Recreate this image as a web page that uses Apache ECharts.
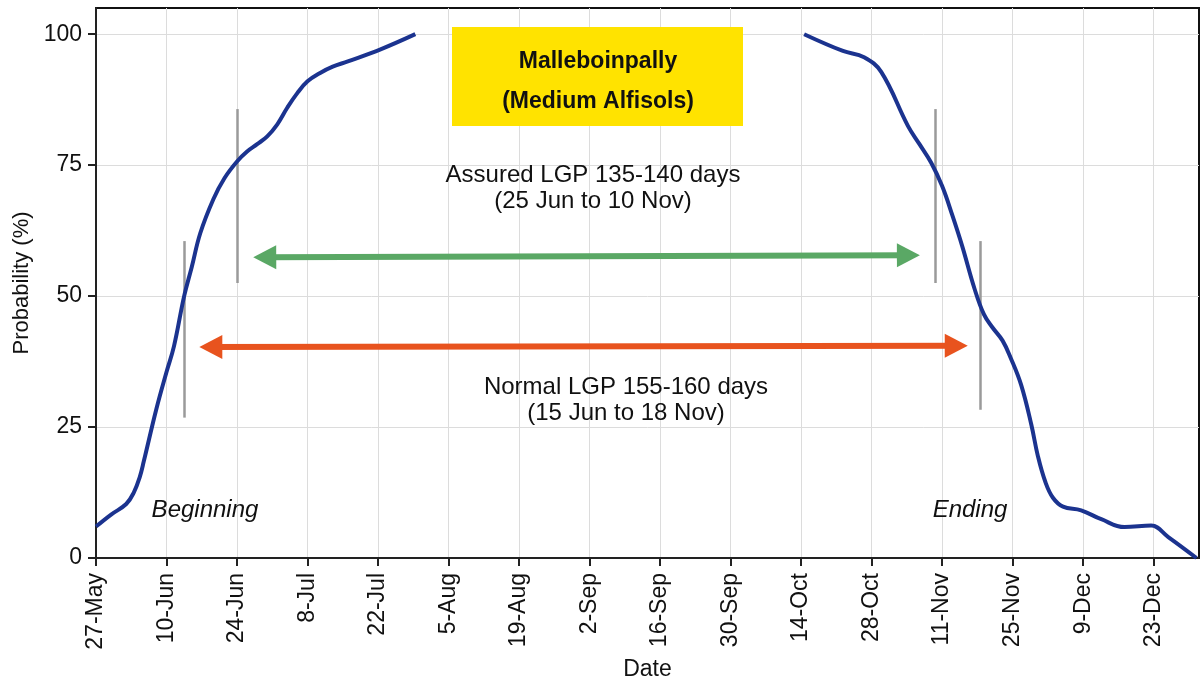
<!DOCTYPE html>
<html>
<head>
<meta charset="utf-8">
<script src="https://cdn.jsdelivr.net/npm/echarts@6/dist/echarts.min.js"></script>
<style>
  html, body { margin: 0; padding: 0; background: #fff; }
  #chart { width: 1202px; height: 686px; }
</style>
</head>
<body>
<div id="chart"></div>
<script>
// tick labels, one every 14 days starting 27-May (day 0)
const tickLabels = ['27-May', '10-Jun', '24-Jun', '8-Jul', '22-Jul', '5-Aug', '19-Aug', '2-Sep',
  '16-Sep', '30-Sep', '14-Oct', '28-Oct', '11-Nov', '25-Nov', '9-Dec', '23-Dec']
const xTicks = tickLabels.map((l, i) => i * 14)
const yTicks = [0, 25, 50, 75, 100]

// beginning curve (days after 27-May, probability %)
const beginDays = [0, 3, 6, 7.5, 8.7, 9.5, 12, 14, 15.5, 17.5, 19, 20.7, 23.3, 25.5, 28, 30, 32, 34, 36, 38, 40, 42, 44.5, 47, 50, 56.5, 63.4]
const beginProb = [6, 8.3, 10.3, 12.5, 15.5, 18.5, 28.5, 35.5, 40.5, 50, 55.5, 62, 68.5, 72.5, 75.7, 77.6, 79, 80.5, 82.8, 86, 88.8, 91, 92.6, 93.8, 94.8, 97.1, 100]

// ending curve
const endDays = [140.6, 148.3, 152.5, 155.9, 161.2, 163.5, 165.8, 168, 170, 172, 174.4, 176.3, 178, 180, 181.7, 183.7, 185.7, 187, 188.5, 190, 192, 195.6, 199.6, 204.2, 209.5, 212.9, 218.5]
const endProb = [100, 96.8, 95.6, 92.8, 82.5, 79, 75.5, 71, 65.5, 59.5, 51.5, 46.5, 44, 41.5, 38, 33, 25.5, 19.5, 14.5, 11.5, 9.8, 9.1, 7.4, 5.9, 6.2, 4, 0]

// markers: gray vertical bars [day, from, to]
const markerBars = [[17.5, 26.8, 60.5], [28, 52.5, 85.7], [166.6, 52.5, 85.7], [175.6, 28.3, 60.5]]
// arrows [day1, prob1, day2, prob2] (centre of the arrow heads)
const assuredArrow = [33.5, 57.4, 161.3, 57.8]
const normalArrow = [22.8, 40.3, 170.8, 40.5]

const chart = echarts.init(document.getElementById('chart'))

const font = 'Liberation Sans, Arial, sans-serif'
const triangle = 'path://M0,0 L10,20 L-10,20 Z'

const zip = (xs, ys) => xs.map((x, i) => [x, ys[i]])

const txt = (x, y, s, extra) => ({
  type: 'text',
  x: x,
  y: y,
  z: 10,
  style: Object.assign({
    text: s,
    fill: '#111',
    font: '24px ' + font,
    align: 'center',
    verticalAlign: 'middle'
  }, extra || {})
})

const option = {
  animation: false,
  backgroundColor: '#fff',
  grid: {
    left: 96,
    right: 3,
    top: 8,
    bottom: 125,
    show: true,
    borderColor: '#111',
    borderWidth: 2
  },
  xAxis: {
    type: 'value',
    min: 0,
    max: 219,
    interval: 14,
    name: 'Date',
    nameLocation: 'middle',
    nameGap: 100,
    nameTextStyle: { fontSize: 23, color: '#111', fontFamily: font },
    axisLine: { show: true, lineStyle: { color: '#222', width: 2 } },
    axisTick: { show: true, length: 8, customValues: xTicks, lineStyle: { color: '#222', width: 2 } },
    axisLabel: {
      rotate: 90,
      margin: 15,
      fontSize: 23,
      color: '#111',
      fontFamily: font,
      customValues: xTicks,
      formatter: (v) => tickLabels[Math.round(v / 14)] || ''
    },
    splitLine: { show: true, lineStyle: { color: '#dcdcdc', width: 1 } }
  },
  yAxis: {
    type: 'value',
    min: 0,
    max: 105,
    interval: 25,
    name: 'Probability (%)',
    nameLocation: 'middle',
    nameGap: 60,
    nameTextStyle: { fontSize: 22, color: '#111', fontFamily: font },
    axisLine: { show: true, lineStyle: { color: '#222', width: 2 } },
    axisTick: { show: true, length: 8, customValues: yTicks, lineStyle: { color: '#222', width: 2 } },
    axisLabel: {
      margin: 14,
      fontSize: 23,
      color: '#111',
      fontFamily: font,
      customValues: yTicks
    },
    splitLine: { show: true, lineStyle: { color: '#dcdcdc', width: 1 } }
  },
  series: [
    {
      type: 'line',
      data: zip(beginDays, beginProb),
      smooth: 0.4,
      symbol: 'none',
      lineStyle: { color: '#1b338f', width: 4 },
      z: 5
    },
    {
      type: 'line',
      data: zip(endDays, endProb),
      smooth: 0.4,
      symbol: 'none',
      lineStyle: { color: '#1b338f', width: 4 },
      z: 5,
      markLine: {
        silent: true,
        symbol: ['none', 'none'],
        label: { show: false },
        lineStyle: { color: '#9a9a9a', width: 2.5, type: 'solid' },
        data: markerBars.map((b) => [{ coord: [b[0], b[1]] }, { coord: [b[0], b[2]] }])
      }
    },
    {
      // arrows
      type: 'line',
      data: [],
      markLine: {
        silent: true,
        symbol: [triangle, triangle],
        symbolSize: [24, 23],
        label: { show: false },
        data: [
          [
            { coord: [assuredArrow[0], assuredArrow[1]], lineStyle: { color: '#5aa865', width: 6, type: 'solid' } },
            { coord: [assuredArrow[2], assuredArrow[3]] }
          ],
          [
            { coord: [normalArrow[0], normalArrow[1]], lineStyle: { color: '#e8531e', width: 6, type: 'solid' } },
            { coord: [normalArrow[2], normalArrow[3]] }
          ]
        ]
      }
    }
  ],
  graphic: [
    {
      type: 'rect',
      shape: { x: 452, y: 27, width: 291, height: 99 },
      style: { fill: '#ffe300' },
      z: 10
    },
    txt(598, 62, 'Malleboinpally', { font: 'bold 23px ' + font }),
    txt(598, 102, '(Medium Alfisols)', { font: 'bold 23px ' + font }),
    txt(593, 175, 'Assured LGP 135-140 days'),
    txt(593, 201, '(25 Jun to 10 Nov)'),
    txt(626, 387, 'Normal LGP 155-160 days'),
    txt(626, 413, '(15 Jun to 18 Nov)'),
    txt(205, 510, 'Beginning', { font: 'italic 24px ' + font }),
    txt(970, 510, 'Ending', { font: 'italic 24px ' + font })
  ]
}

chart.setOption(option)
</script>
</body>
</html>
